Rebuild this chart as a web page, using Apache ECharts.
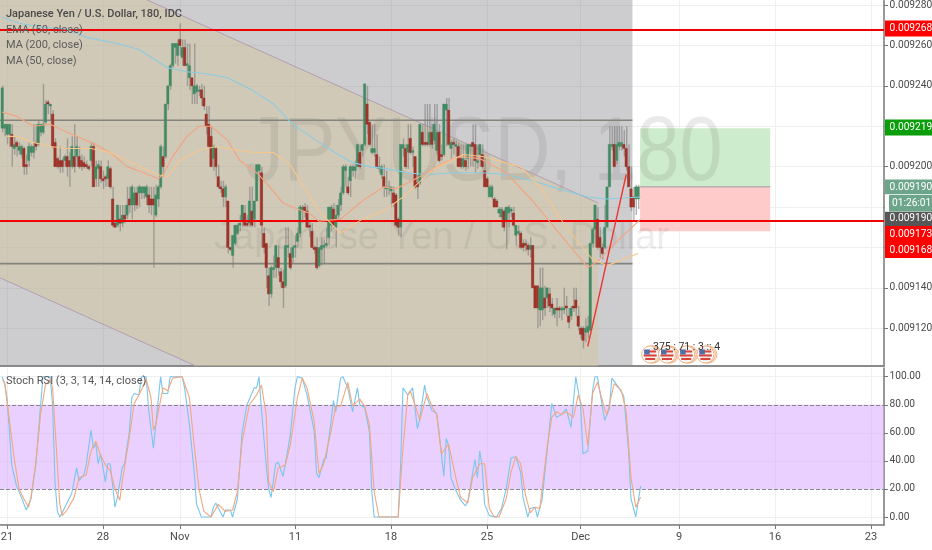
<!DOCTYPE html>
<html>
<head>
<meta charset="utf-8">
<style>html,body{margin:0;padding:0;background:#fff}#c{width:932px;height:550px}</style>
<script src="https://cdn.jsdelivr.net/npm/echarts@6/dist/echarts.min.js"></script>
</head>
<body>
<div id="c"></div>
<script>
// Prices are in millionths of a dollar (9190 = 0.009190). Each row: open, high, low, close.
const ohlc = [
[9219,9240,9217,9239],[9219,9221,9215,9221],[9216,9221,9211,9221],[9216,9221,9210,9221],[9216,9221,9200,9210],
[9209,9215,9206,9211],[9212,9213,9205,9210],[9208,9212,9206,9210],[9206,9211,9204,9210],[9209,9210,9196,9200],
[9201,9206,9196,9200],[9203,9212,9200,9210],[9207,9211,9205,9210],[9207,9221,9204,9210],[9212,9221,9208,9210],
[9211,9223,9210,9221],[9217,9221,9215,9221],[9217,9241,9216,9221],[9222,9233,9221,9231],[9232,9233,9226,9231],
[9230,9231,9223,9231],[9226,9228,9209,9210],[9212,9214,9200,9200],[9204,9205,9199,9200],[9203,9210,9197,9200],
[9203,9204,9197,9200],[9203,9206,9200,9205],[9205,9214,9195,9200],[9203,9207,9190,9200],[9200,9215,9199,9210],
[9205,9221,9197,9200],[9205,9215,9200,9210],[9205,9210,9199,9200],[9203,9206,9198,9200],[9202,9205,9199,9200],
[9201,9203,9199,9200],[9200,9201,9198,9199],[9203,9212,9200,9210],[9210,9212,9190,9190],[9194,9203,9190,9200],
[9199,9203,9190,9201],[9200,9203,9192,9194],[9194,9198,9189,9193],[9195,9196,9190,9194],[9194,9203,9190,9200],
[9199,9200,9189,9190],[9184,9190,9170,9171],[9172,9173,9170,9170],[9171,9181,9170,9181],[9174,9181,9168,9172],
[9172,9181,9170,9176],[9176,9181,9172,9174],[9176,9190,9174,9181],[9184,9190,9177,9181],[9181,9191,9174,9190],
[9181,9190,9178,9187],[9187,9190,9179,9181],[9187,9191,9180,9190],[9187,9190,9184,9190],[9187,9190,9184,9190],
[9185,9191,9181,9190],[9186,9190,9177,9181],[9184,9190,9176,9181],[9184,9190,9150,9181],[9176,9191,9175,9186],
[9184,9191,9180,9190],[9190,9211,9189,9210],[9205,9210,9195,9200],[9205,9231,9204,9231],[9231,9240,9228,9240],
[9240,9251,9238,9250],[9250,9261,9249,9261],[9259,9261,9251,9261],[9255,9263,9250,9261],[9263,9271,9255,9260],
[9254,9263,9250,9259],[9259,9263,9250,9250],[9250,9261,9240,9251],[9244,9261,9238,9250],[9244,9244,9231,9240],
[9236,9261,9231,9240],[9237,9241,9231,9240],[9238,9240,9235,9238],[9238,9241,9230,9234],[9234,9240,9228,9230],
[9226,9230,9216,9220],[9221,9230,9209,9210],[9215,9220,9200,9200],[9204,9211,9198,9210],[9209,9210,9195,9200],
[9195,9201,9189,9190],[9190,9193,9187,9189],[9189,9193,9180,9185],[9185,9191,9180,9190],[9183,9183,9157,9160],
[9160,9160,9158,9159],[9156,9166,9150,9166],[9162,9171,9161,9171],[9167,9172,9166,9171],[9171,9176,9168,9172],
[9173,9181,9170,9181],[9177,9181,9170,9171],[9172,9176,9170,9171],[9172,9190,9170,9183],[9178,9190,9170,9171],
[9174,9183,9170,9183],[9183,9201,9183,9201],[9198,9201,9195,9201],[9197,9200,9160,9171],[9167,9170,9157,9160],
[9162,9162,9140,9150],[9146,9150,9131,9137],[9137,9151,9135,9150],[9149,9156,9145,9150],[9150,9161,9145,9161],
[9155,9161,9146,9150],[9148,9150,9140,9143],[9143,9149,9130,9140],[9141,9170,9140,9161],[9160,9170,9155,9161],
[9157,9160,9149,9150],[9155,9161,9152,9160],[9160,9166,9155,9161],[9163,9170,9160,9167],[9167,9181,9165,9180],
[9178,9181,9172,9180],[9180,9182,9175,9178],[9178,9181,9170,9170],[9171,9173,9165,9170],[9168,9172,9160,9160],
[9160,9161,9157,9159],[9160,9165,9149,9150],[9151,9160,9150,9160],[9159,9165,9151,9161],[9160,9164,9152,9161],
[9161,9170,9160,9162],[9165,9180,9161,9180],[9171,9181,9168,9180],[9179,9182,9169,9171],[9170,9181,9160,9176],
[9176,9184,9174,9181],[9181,9190,9178,9187],[9187,9201,9186,9200],[9198,9201,9190,9200],[9190,9195,9186,9187],
[9193,9201,9185,9200],[9198,9201,9195,9200],[9198,9203,9194,9200],[9200,9211,9200,9211],[9207,9211,9199,9200],
[9208,9211,9205,9211],[9211,9241,9210,9241],[9231,9240,9216,9221],[9222,9222,9210,9211],[9207,9221,9206,9209],
[9207,9221,9205,9209],[9206,9216,9199,9200],[9199,9205,9197,9200],[9196,9201,9194,9200],[9195,9201,9185,9190],
[9189,9198,9185,9190],[9189,9193,9186,9190],[9188,9190,9180,9190],[9187,9190,9180,9182],[9186,9187,9170,9171],
[9174,9175,9166,9170],[9170,9211,9165,9211],[9209,9214,9205,9211],[9209,9211,9199,9200],[9207,9221,9199,9211],
[9214,9221,9206,9207],[9207,9210,9200,9208],[9205,9205,9189,9190],[9192,9196,9184,9190],[9192,9221,9191,9221],
[9217,9221,9210,9211],[9212,9231,9210,9211],[9212,9231,9210,9211],[9211,9231,9210,9217],[9217,9221,9209,9211],
[9213,9231,9211,9221],[9208,9231,9206,9217],[9217,9221,9202,9203],[9206,9211,9203,9205],[9206,9231,9205,9231],
[9228,9234,9210,9231],[9228,9234,9210,9211],[9209,9213,9204,9212],[9212,9214,9206,9211],[9210,9213,9205,9211],
[9210,9212,9200,9200],[9204,9211,9199,9200],[9200,9211,9199,9204],[9203,9211,9198,9200],[9204,9211,9199,9211],
[9210,9211,9200,9211],[9212,9221,9200,9210],[9211,9221,9197,9203],[9202,9211,9199,9203],[9206,9211,9200,9211],
[9206,9211,9199,9200],[9198,9205,9190,9190],[9194,9195,9190,9190],[9185,9191,9185,9190],[9185,9191,9184,9190],
[9184,9185,9180,9180],[9183,9184,9180,9180],[9177,9180,9175,9179],[9175,9180,9170,9179],[9178,9179,9168,9170],
[9173,9180,9159,9180],[9177,9181,9170,9180],[9178,9180,9175,9179],[9177,9180,9170,9171],[9166,9171,9161,9171],
[9167,9171,9166,9168],[9167,9168,9159,9160],[9162,9164,9158,9160],[9162,9164,9158,9161],[9161,9162,9156,9159],
[9159,9165,9155,9161],[9161,9161,9140,9140],[9141,9141,9130,9130],[9141,9141,9120,9130],[9129,9150,9121,9140],
[9129,9150,9124,9140],[9135,9141,9126,9130],[9135,9140,9130,9140],[9137,9140,9128,9131],[9132,9135,9126,9130],
[9127,9130,9125,9130],[9130,9135,9121,9129],[9130,9131,9125,9129],[9129,9131,9124,9130],[9129,9140,9127,9130],
[9131,9136,9126,9130],[9126,9130,9120,9123],[9126,9131,9124,9130],[9131,9140,9128,9130],[9134,9140,9126,9130],
[9126,9131,9119,9121],[9120,9121,9115,9117],[9120,9121,9110,9114],[9118,9125,9113,9120],[9118,9126,9115,9121],
[9119,9162,9119,9162],[9162,9170,9160,9169],[9169,9181,9160,9181],[9174,9180,9159,9160],[9165,9170,9155,9160],
[9160,9162,9154,9157],[9160,9181,9159,9170],[9170,9190,9170,9190],[9190,9220,9190,9211],[9210,9220,9208,9211],
[9211,9220,9200,9200],[9203,9220,9201,9211],[9210,9220,9208,9212],[9210,9220,9208,9212],[9211,9218,9205,9209],
[9209,9220,9198,9200],[9200,9211,9190,9190],[9189,9200,9178,9180],[9185,9190,9173,9180],[9184,9191,9176,9190],
[9184,9191,9179,9190]
];

// Moving averages as [bar index, price]
const ma200 = [[0,9274],[7,9271],[17,9269],[27,9268],[35,9264],[48,9261],[57,9258],[69,9249],[77,9247],[85,9246],[94,9244],[104,9238],[113,9231],[121,9221],[132,9212],[140,9206],[146,9202],[153,9200],[160,9199],[169,9197],[177,9196],[188,9197],[200,9197],[210,9196],[221,9193],[232,9189],[244,9185],[252,9184],[266,9185]];
const ma50 = [[0,9227],[6,9225],[13,9220],[20,9221],[27,9217],[37,9212],[45,9207],[52,9200],[59,9197],[65,9194],[67,9196],[71,9205],[77,9215],[82,9220],[87,9220],[94,9213],[99,9203],[106,9197],[110,9192],[117,9182],[123,9179],[128,9177],[132,9173],[141,9174],[150,9183],[159,9190],[164,9189],[174,9195],[184,9202],[191,9205],[199,9204],[210,9197],[221,9183],[230,9170],[244,9150],[248,9153],[257,9164],[266,9174]];
const ema50 = [[2,9215],[6,9215],[13,9212],[20,9210],[27,9209],[37,9209],[45,9207],[52,9203],[59,9199],[65,9196],[69,9195],[74,9203],[82,9208],[89,9210],[99,9208],[105,9207],[113,9207],[120,9201],[124,9193],[132,9178],[141,9167],[150,9174],[159,9178],[167,9185],[180,9199],[192,9206],[200,9205],[216,9200],[224,9190],[235,9170],[246,9154],[252,9151],[265,9157]];

// Stoch RSI as [bar index, value]
const stochK = [[0,100],[1,95],[2,85],[3,61],[4,37],[6,22],[8,14],[10,5],[12,13],[14,37],[16,80],[17,100],[20,100],[21,80],[22,25],[23,4],[24,0],[25,3],[27,10],[29,17],[31,35],[32,26],[34,30],[35,37],[37,62],[38,49],[39,52],[40,38],[41,45],[43,25],[44,38],[45,38],[47,7],[48,14],[50,35],[51,38],[53,61],[54,85],[55,88],[57,87],[58,100],[60,100],[61,77],[63,49],[64,66],[66,100],[67,88],[69,88],[70,100],[75,100],[76,92],[78,66],[80,32],[81,9],[83,0],[87,0],[88,7],[89,10],[92,0],[93,5],[95,5],[96,0],[98,13],[100,61],[102,80],[105,92],[106,92],[107,100],[108,77],[110,37],[111,20],[112,14],[114,38],[115,39],[117,29],[118,38],[120,58],[122,92],[123,100],[125,99],[127,87],[130,61],[131,31],[132,28],[134,41],[135,42],[137,68],[138,83],[139,75],[141,99],[142,100],[144,92],[146,75],[148,92],[149,80],[151,78],[153,61],[154,18],[155,0],[165,0],[166,37],[167,92],[169,87],[171,92],[173,63],[174,70],[176,94],[177,85],[179,76],[181,74],[182,61],[184,29],[185,56],[186,51],[187,28],[189,19],[191,12],[193,8],[194,11],[197,41],[198,28],[199,47],[200,36],[201,9],[203,1],[206,0],[208,6],[210,20],[212,42],[214,43],[216,32],[217,14],[219,0],[220,6],[222,7],[223,0],[225,13],[228,63],[229,81],[231,71],[233,73],[235,77],[237,64],[239,100],[241,80],[242,45],[244,47],[246,90],[247,100],[248,100],[251,69],[253,77],[254,99],[257,92],[259,86],[261,47],[262,13],[264,0],[266,22]];
const stochD = [[0,98],[1,96],[3,69],[5,42],[7,20],[9,13],[11,7],[12,14],[14,39],[16,73],[18,94],[20,98],[21,92],[23,37],[24,9],[25,1],[27,5],[30,14],[32,28],[35,30],[37,47],[39,54],[41,44],[43,37],[45,33],[47,20],[49,12],[50,25],[53,57],[55,81],[57,87],[60,98],[62,85],[63,62],[64,66],[67,92],[69,90],[71,99],[75,100],[78,85],[80,51],[82,20],[84,4],[87,0],[90,9],[93,4],[96,5],[98,18],[100,54],[103,80],[106,87],[108,94],[110,73],[111,25],[113,18],[115,35],[118,37],[120,51],[123,85],[125,99],[127,92],[130,68],[132,31],[134,38],[137,61],[139,79],[141,79],[144,96],[146,79],[149,84],[151,79],[153,66],[155,18],[157,0],[165,0],[167,49],[169,87],[170,90],[172,80],[174,69],[177,88],[179,79],[181,73],[183,45],[186,52],[189,28],[191,14],[194,10],[196,28],[199,38],[201,38],[203,6],[205,0],[207,0],[210,13],[212,32],[214,43],[216,38],[218,16],[220,3],[222,7],[224,6],[227,49],[229,71],[231,75],[233,73],[235,75],[238,71],[240,87],[242,77],[244,51],[246,88],[248,96],[251,77],[252,73],[255,95],[258,90],[260,75],[262,28],[264,7],[266,14]];

// Drawings, in [bar index, price]
const sessionBox = [[-1,9283],[262.6,9283],[262.6,9101],[-1,9101]];
const channelBox = [[59.5,9283],[248.3,9182],[248.3,9101],[81.2,9101],[-1,9145],[-1,9283]];
const channelTop = [[59.5,9283],[248.3,9182]];
const channelBottom = [[-1,9145],[81.2,9101]];
const targetBox = [[265.8,9219],[320,9219],[320,9190],[265.8,9190]];
const stopBox = [[265.8,9190],[320,9190],[320,9168],[265.8,9168]];
const entryLine = [[265.8,9190],[320,9190]];
const levelHigh = [[-1,9223],[262.6,9223]];
const levelLow = [[-1,9152],[262.6,9152]];
const trendLine = [[244,9111],[260,9196]];
const redLevels = [9268,9173];

// Axes
const xTickIndex = [2,42,74,122,162,202,241,282,322,362];
const xTickLabels = ['21','28','Nov','11','18','25','Dec','9','16','23'];
const priceTicks = [9120,9140,9160,9180,9200,9220,9240,9260,9280];
const stochTicks = [0,20,40,60,80,100];
const eventIndex = [270,277,285,293];
const eventPrice = [9107,9107,9107,9107];

// Price tags on the right scale
const tagLabels = ['0.009268','0.009219','0.009190','0.009190','0.009173','0.009168'];
const tagColors = ['#ff0000','#0a9e0a','#6ca58a','#565656','#ff0000','#ff0000'];
const countdown = '01:26:01';
const titleLines = ['Japanese Yen / U.S. Dollar, 180, IDC','EMA (50, close)','MA (200, close)','MA (50, close)'];

const tagTops = [20.5,119.5,179.5,211.5,226,242];
const tagHeights = [16,16,15,14.5,16,16];
const fontUI = 'Roboto, sans-serif';

const graphics = [];
graphics.push({type:'text',z:2,silent:true,x:245,y:155,scaleX:0.86,style:{text:'JPYUSD, 180',x:0,y:0,verticalAlign:'middle',font:'90px Liberation Sans, sans-serif',fill:'rgba(90,90,90,0.13)'}});
graphics.push({type:'text',z:2,silent:true,style:{text:'Japanese Yen / U.S. Dollar',x:214,y:220,font:'38px Liberation Sans, sans-serif',fill:'rgba(90,90,90,0.11)'}});
titleLines.forEach((t,i)=>{
  graphics.push({type:'text',z:40,silent:true,style:{text:t,x:6,y:[9,25,40,56][i],font:(i===0?'500 ':'')+'11px '+fontUI,fill:i===0?'#4a4a4a':'#5b5b5b'}});
});
graphics.push({type:'text',z:40,silent:true,style:{text:'Stoch RSI (3, 3, 14, 14, close)',x:6,y:376,font:'11px '+fontUI,fill:'#555'}});
tagLabels.forEach((t,i)=>{
  graphics.push({type:'rect',z:60,silent:true,shape:{x:885,y:tagTops[i],width:47,height:tagHeights[i]},style:{fill:tagColors[i]}});
  graphics.push({type:'text',z:61,silent:true,style:{text:t,x:889.5,y:tagTops[i]+tagHeights[i]/2,verticalAlign:'middle',font:'10.2px '+fontUI,fill:'#fff'}});
});
graphics.push({type:'rect',z:60,silent:true,shape:{x:885,y:194.5,width:47,height:17},style:{fill:'#fff'}});
graphics.push({type:'rect',z:61,silent:true,shape:{x:889,y:195,width:43,height:16.5},style:{fill:'#6ca58a'}});
graphics.push({type:'text',z:62,silent:true,style:{text:countdown,x:892,y:203.5,verticalAlign:'middle',font:'10.2px '+fontUI,fill:'#fff'}});
graphics.push({type:'text',z:50,silent:true,style:{text:'375 : 71 : 3 :: 4',x:653,y:342,font:'10.5px '+fontUI,fill:'#333'}});

function regionSeries(name, points, fill, z){
  return {name, type:'custom', xAxisIndex:0, yAxisIndex:0, z, silent:true, clip:true, data:[0],
    renderItem:(p,api)=>({type:'polygon',shape:{points:points.map(q=>api.coord(q))},style:{fill}})};
}
function segment(name, points, color, width, z){
  return {name, type:'line', xAxisIndex:0, yAxisIndex:0, z, silent:true, symbol:'none', data:points,
    lineStyle:{color, width}};
}
function maLine(name, points, color, width, xi, yi, z){
  return {name, type:'line', xAxisIndex:xi, yAxisIndex:yi, z:z||6, silent:true, symbol:'none', data:points,
    lineStyle:{color, width}};
}

const series = [
  regionSeries('session', sessionBox, 'rgba(130,130,136,0.40)', 1),
  regionSeries('channel', channelBox, 'rgba(212,197,160,0.50)', 1),
  regionSeries('target', targetBox, '#cdebcd', 1),
  regionSeries('stop', stopBox, '#ffcaca', 1),
  segment('channelTop', channelTop, '#b29fb0', 1, 2),
  segment('channelBottom', channelBottom, '#b29fb0', 1, 2),
  segment('entry', entryLine, '#9a9a9a', 1, 2),
  segment('levelHigh', levelHigh, '#84847c', 1.6, 2),
  segment('levelLow', levelLow, '#84847c', 1.6, 2),
  {
    name:'JPYUSD', type:'custom', xAxisIndex:0, yAxisIndex:0, z:4, silent:true, clip:true,
    data: ohlc.map((r,i)=>[i,r[0],r[1],r[2],r[3]]),
    encode:{x:0,y:[1,2,3,4]},
    renderItem:(p,api)=>{
      const i=api.value(0),o=api.value(1),h=api.value(2),l=api.value(3),c=api.value(4);
      const hi=api.coord([i,h]),lo=api.coord([i,l]),a=api.coord([i,Math.max(o,c)]),b=api.coord([i,Math.min(o,c)]);
      const up=c>=o;
      return {type:'group',children:[
        {type:'line',shape:{x1:hi[0]+0.5,y1:hi[1],x2:lo[0]+0.5,y2:lo[1]},style:{stroke:'rgba(125,125,125,0.6)',lineWidth:1.4}},
        {type:'rect',shape:{x:a[0]-1.2,y:a[1],width:2.4,height:Math.max(b[1]-a[1],1.5)},style:{fill:up?'#418a64':'#a4342a',stroke:up?'#4b8f6b':'#8c2a22',lineWidth:0.4}}
      ]};
    }
  },
  maLine('MA 200', ma200, '#8ccbe2', 1.1, 0, 0),
  maLine('MA 50', ma50, '#f2a583', 1.2, 0, 0),
  maLine('EMA 50', ema50, '#f6c68c', 1.1, 0, 0),
  segment('trend', trendLine, '#f0332d', 1.4, 7),
  {
    name:'levels', type:'line', xAxisIndex:0, yAxisIndex:0, z:8, silent:true, data:[],
    markLine:{silent:true, symbol:'none', animation:false, label:{show:false},
      lineStyle:{color:'#f00000',width:2,type:'solid'},
      data:redLevels.map(v=>({yAxis:v}))}
  },
  {
    name:'events', type:'custom', xAxisIndex:0, yAxisIndex:0, z:9, silent:true, clip:false,
    data:eventIndex.map((x,i)=>[x,eventPrice[i]]),
    renderItem:(p,api)=>{
      const c=api.coord([api.value(0),api.value(1)]);
      const x=c[0],y=c[1],o='#eeb184';
      return {type:'group',children:[
        {type:'circle',shape:{cx:x+3,cy:y,r:8.5},style:{fill:'#fff',stroke:o,lineWidth:1}},
        {type:'circle',shape:{cx:x+1.5,cy:y,r:8.5},style:{fill:'#fff',stroke:o,lineWidth:1}},
        {type:'circle',shape:{cx:x,cy:y,r:8.5},style:{fill:'#fff',stroke:o,lineWidth:1}},
        {type:'circle',shape:{cx:x,cy:y,r:6.5},style:{fill:'#f7e9e6'}},
        {type:'rect',shape:{x:x-6,y:y-4,width:12,height:2},style:{fill:'#d8433c'}},
        {type:'rect',shape:{x:x-6.5,y:y,width:13,height:2},style:{fill:'#d8433c'}},
        {type:'rect',shape:{x:x-5,y:y+3.5,width:10,height:2},style:{fill:'#d8433c'}},
        {type:'rect',shape:{x:x-6,y:y-5,width:5.5,height:5},style:{fill:'#4f70a8'}}
      ]};
    }
  },
  {
    name:'band', type:'line', xAxisIndex:1, yAxisIndex:1, z:1, silent:true, data:[],
    markArea:{silent:true, animation:false, itemStyle:{color:'rgba(216,170,255,0.55)'},
      data:[[{yAxis:20},{yAxis:80}]]},
    markLine:{silent:true, symbol:'none', animation:false, label:{show:false},
      lineStyle:{color:'#888',width:1,type:'dashed'},
      data:[{yAxis:20},{yAxis:80}]}
  },
  maLine('%K', stochK, '#79c6ec', 1.1, 1, 1),
  maLine('%D', stochD, '#f4a67d', 1.1, 1, 1)
];

const xCommon = {
  type:'value', min:-0.9167, max:367.42, silent:true,
  splitLine:{show:true,lineStyle:{color:'#efefef',width:1}},
  axisTick:{customValues:xTickIndex,length:4,lineStyle:{color:'#777'}},
};
const yLabelStyle = {color:'#4a4a4a',fontFamily:'Roboto, sans-serif',fontSize:10.2};
const option = {
  animation:false,
  backgroundColor:'#ffffff',
  textStyle:{fontFamily:fontUI},
  grid:[
    {left:0,top:0,width:884,height:366,containLabel:false,outerBoundsMode:'none'},
    {left:0,top:368,width:884,height:157,containLabel:false,outerBoundsMode:'none'}
  ],
  xAxis:[
    Object.assign({},xCommon,{gridIndex:0,axisLine:{show:true,onZero:false,lineStyle:{color:'#8a8a8a',width:2}},
      axisTick:{show:false,customValues:xTickIndex},axisLabel:{show:false,customValues:xTickIndex}}),
    Object.assign({},xCommon,{gridIndex:1,axisLine:{show:true,onZero:false,lineStyle:{color:'#777',width:1.5}},
      axisLabel:{show:true,customValues:xTickIndex,color:'#4a4a4a',fontSize:11,margin:7,
        formatter:v=>xTickLabels[xTickIndex.indexOf(Math.round(v))]||''}})
  ],
  yAxis:[
    {type:'value',gridIndex:0,position:'right',min:9101.3,max:9282.5,silent:true,
      axisLine:{show:true,onZero:false,lineStyle:{color:'#777',width:1.5}},
      axisTick:{show:true,customValues:priceTicks,length:4,lineStyle:{color:'#777'}},
      splitLine:{show:true,lineStyle:{color:'#efefef',width:1}},
      axisLabel:Object.assign({show:true,customValues:priceTicks,margin:5.5,
        formatter:v=>(v/1e6).toFixed(6)},yLabelStyle)},
    {type:'value',gridIndex:1,position:'right',min:-5.7,max:106.2,silent:true,
      axisLine:{show:true,onZero:false,lineStyle:{color:'#777',width:1.5}},
      axisTick:{show:true,customValues:stochTicks,length:4,lineStyle:{color:'#777'}},
      splitLine:{show:true,lineStyle:{color:'#efefef',width:1}},
      axisLabel:Object.assign({show:true,customValues:stochTicks,margin:5.5,
        formatter:v=>v.toFixed(2)},yLabelStyle)}
  ],
  series,
  graphic:{elements:graphics}
};
const chart = echarts.init(document.getElementById('c'),null,{renderer:'canvas'});
chart.setOption(option);
</script>
</body>
</html>
